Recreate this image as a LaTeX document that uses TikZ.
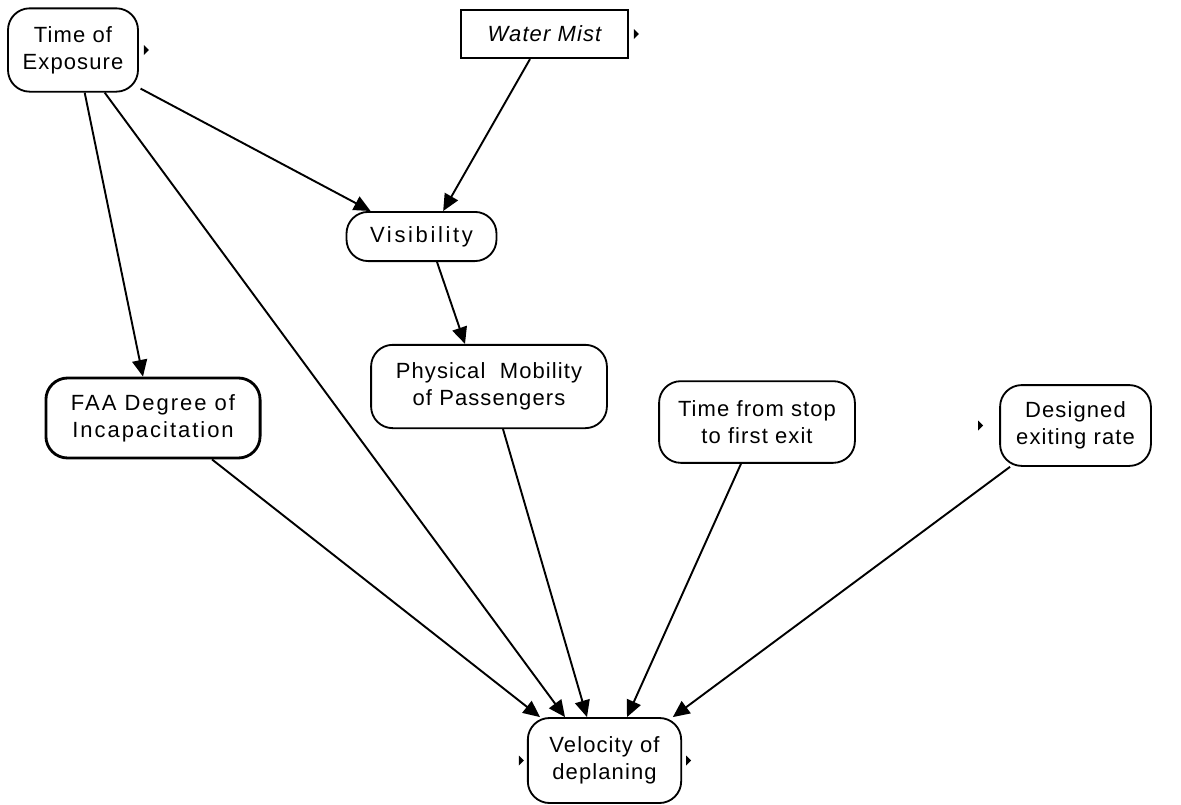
\documentclass[tikz,border=0pt]{standalone}
\usepackage{fontspec}
\setmainfont{Liberation Sans}[LetterSpace=5]
\usetikzlibrary{arrows.meta,calc}

\tikzset{
  varbox/.style={draw, line width=1.1pt, rounded corners=13pt, align=center,
    inner sep=0pt, font=\fontsize{13.2}{16.3}\selectfont},
  decbox/.style={draw, line width=1.1pt, align=center, inner sep=0pt,
    font=\fontsize{13.2}{16.3}\selectfont\itshape},
  link/.style={line width=1.15pt, -{Triangle[length=10pt,width=9pt]}},
}

\begin{document}
\begin{tikzpicture}[x=0.6pt, y=-0.6pt]
\useasboundingbox (0,0) rectangle (1181,805);

% variables
\node[varbox, minimum width=78pt, minimum height=50pt] (toe) at (73,50) {Time of\\Exposure};
\node[decbox, minimum width=100pt, minimum height=29pt] (wm) at (544.5,34) {Water Mist};
\node[varbox, minimum width=90pt, minimum height=29.5pt] (vis) at (421.5,236.5) {\addfontfeature{LetterSpace=12}Visibility};
\node[varbox, minimum width=141.5pt, minimum height=50pt] (pm) at (489,386.5) {Physical\ \ Mobility\\of Passengers};
\node[varbox, line width=1.7pt, minimum width=128.5pt, minimum height=48pt] (faa) at (153,418) {\addfontfeature{LetterSpace=9}FAA Degree of\\\addfontfeature{LetterSpace=9}Incapacitation};
\node[varbox, minimum width=117.5pt, minimum height=49pt] (tfs) at (757,422) {Time from stop\\to first exit};
\node[varbox, minimum width=90.5pt, minimum height=48.5pt] (der) at (1075.5,425.5) {Designed\\exiting rate};
\node[varbox, minimum width=92pt, minimum height=51pt] (vel) at (604.5,760.5) {Velocity of\\deplaning};

% small side markers
\fill ($(toe.east)+(5,-5)$) -- ++(0,10) -- ++(5,-5) -- cycle;
\fill ($(wm.east)+(5,-5)$) -- ++(0,10) -- ++(5,-5) -- cycle;
\fill ($(der.west)+(-21,-5)$) -- ++(0,10) -- ++(5,-5) -- cycle;
\fill ($(vel.west)+(-8,-5)$) -- ++(0,10) -- ++(5,-5) -- cycle;
\fill ($(vel.east)+(4,-5)$) -- ++(0,10) -- ++(5,-5) -- cycle;

% influences
\draw[link] ([xshift=1pt,yshift=2.4pt]toe.south east) -- ([xshift=15pt]vis.north west);
\draw[link] ([xshift=-8.7pt]wm.south) -- ([xshift=13pt]vis.north);
\draw[link] ([xshift=7pt]toe.south) -- ([xshift=-6pt]faa.north);
\draw[link] ([xshift=19pt]toe.south) -- ([xshift=-23.7pt]vel.north);
\draw[link] ([xshift=9.3pt]vis.south) -- ([xshift=-14.4pt]pm.north);
\draw[link] ([xshift=35.4pt]faa.south) -- ([xshift=-38.7pt]vel.north);
\draw[link] ([xshift=8.4pt]pm.south) -- ([xshift=-10.5pt]vel.north);
\draw[link] ([xshift=-9.6pt]tfs.south) -- ([xshift=13.5pt]vel.north);
\draw[link] ([xshift=-39.3pt]der.south) -- ([xshift=41pt]vel.north);
\end{tikzpicture}
\end{document}
